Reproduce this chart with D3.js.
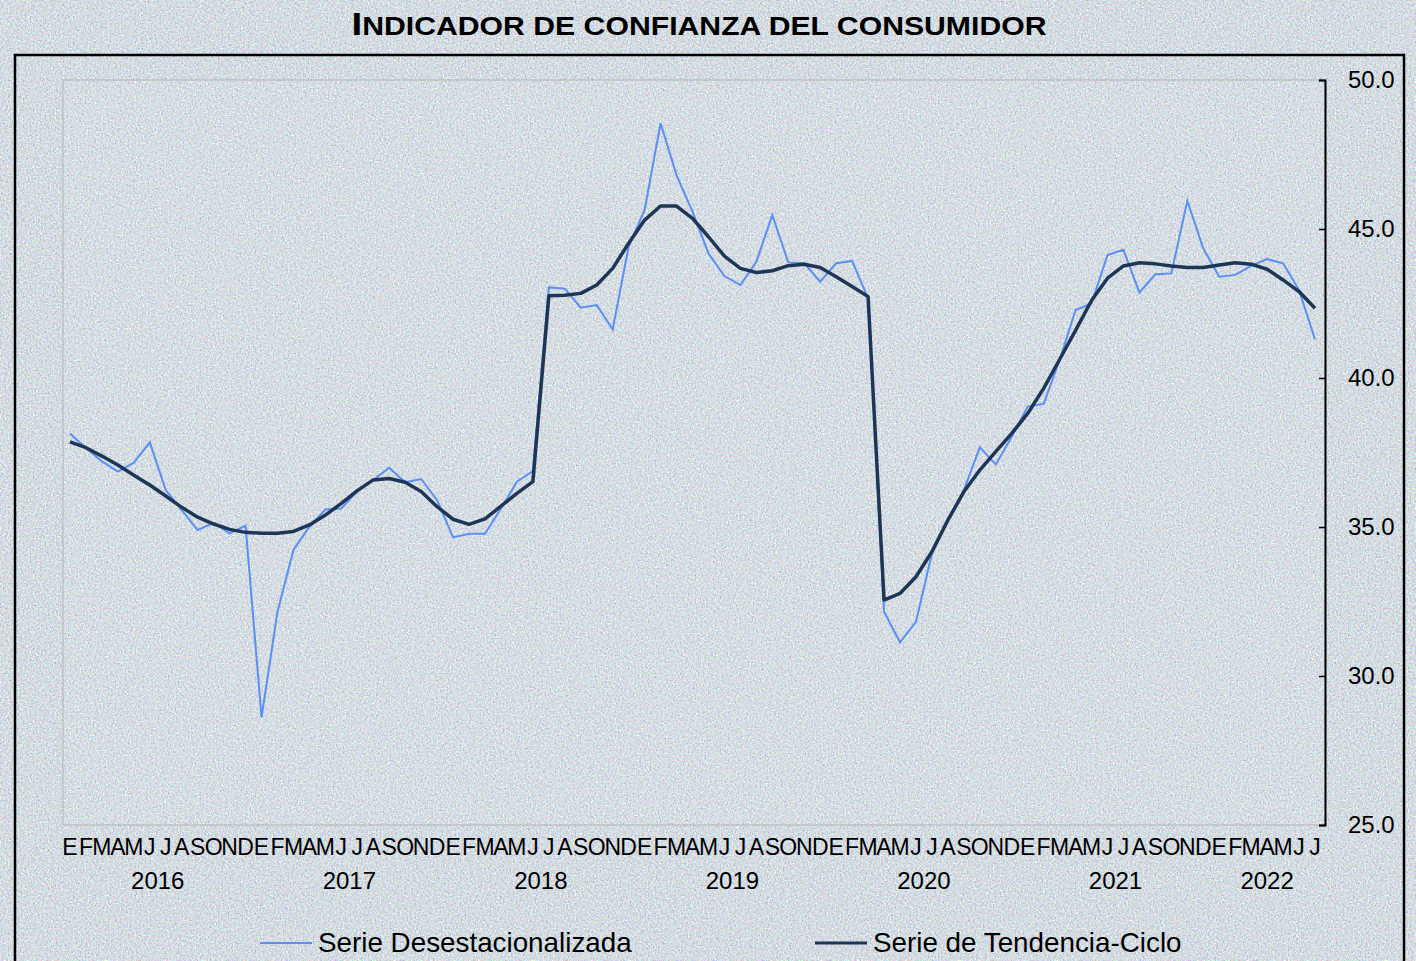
<!DOCTYPE html>
<html>
<head>
<meta charset="utf-8">
<script src="https://cdn.jsdelivr.net/npm/d3@7"></script>
<style>
  body { margin: 0; background: #d2dee6; overflow: hidden; }
  svg { display: block; font-family: "Liberation Sans", Arial, sans-serif; }
</style>
</head>
<body>
<div id="chart"></div>
<script>
// Monthly series, Jan 2016 .. Jul 2022
const monthLetters = ['E', 'F', 'M', 'A', 'M', 'J', 'J', 'A', 'S', 'O', 'N', 'D'];
const years = ['2016', '2017', '2018', '2019', '2020', '2021', '2022'];
const yTicks = [25, 30, 35, 40, 45, 50];

const desestacionalizada = [
  38.14, 37.65, 37.20, 36.86, 37.16, 37.84, 36.24, 35.57, 34.90, 35.14, 34.79, 35.04,
  28.61, 32.16, 34.23, 35.01, 35.59, 35.62, 36.20, 36.58, 36.99, 36.50, 36.61, 35.90,
  34.65, 34.77, 34.77, 35.62, 36.52, 36.88, 43.04, 43.00, 42.36, 42.45, 41.63, 44.41,
  45.64, 48.55, 46.81, 45.58, 44.18, 43.42, 43.12, 43.90, 45.47, 43.88, 43.85, 43.23,
  43.85, 43.93, 42.67, 32.16, 31.13, 31.82, 34.11, 35.23, 36.24, 37.67, 37.10, 38.03,
  39.04, 39.13, 40.60, 42.28, 42.50, 44.13, 44.30, 42.87, 43.48, 43.51, 45.94, 44.35,
  43.40, 43.46, 43.76, 43.99, 43.85, 42.95, 41.30
];

const tendenciaCiclo = [
  37.86, 37.66, 37.38, 37.08, 36.74, 36.41, 36.04, 35.66, 35.33, 35.10, 34.92, 34.82,
  34.79, 34.79, 34.85, 35.07, 35.40, 35.79, 36.22, 36.58, 36.63, 36.50, 36.19, 35.68,
  35.26, 35.09, 35.27, 35.70, 36.13, 36.52, 42.76, 42.78, 42.84, 43.12, 43.68, 44.52,
  45.30, 45.77, 45.77, 45.36, 44.74, 44.09, 43.68, 43.54, 43.60, 43.77, 43.82, 43.71,
  43.40, 43.07, 42.73, 32.55, 32.77, 33.33, 34.17, 35.23, 36.18, 36.91, 37.53, 38.14,
  38.81, 39.65, 40.62, 41.60, 42.60, 43.35, 43.76, 43.87, 43.83, 43.76, 43.71, 43.71,
  43.79, 43.87, 43.82, 43.65, 43.29, 42.90, 42.34
];

const W = 1416, H = 961;
const plot = { left: 63, right: 1325, top: 80, bottom: 825 };

const svg = d3.select('#chart')
  .append('svg')
  .attr('width', W)
  .attr('height', H);

// Noisy pastel paper texture
const defs = svg.append('defs');
const noise = defs.append('filter')
  .attr('id', 'paper')
  .attr('color-interpolation-filters', 'sRGB')
  .attr('x', 0).attr('y', 0).attr('width', '100%').attr('height', '100%');
noise.append('feTurbulence')
  .attr('type', 'fractalNoise')
  .attr('baseFrequency', 0.6)
  .attr('numOctaves', 2)
  .attr('seed', 7);
noise.append('feColorMatrix')
  .attr('type', 'matrix')
  .attr('values', '0.5 0 0 0.22 0.47  0 0.45 0 0.22 0.525  0 0 0.45 0.22 0.55  0 0 0 0 1');

svg.append('rect')
  .attr('width', W)
  .attr('height', H)
  .attr('filter', 'url(#paper)');

// Title (small caps)
const title = svg.append('text')
  .attr('x', 699)
  .attr('y', 35)
  .attr('text-anchor', 'middle')
  .attr('font-weight', 'bold')
  .attr('fill', '#000')
  .attr('textLength', 695)
  .attr('lengthAdjust', 'spacingAndGlyphs');
title.append('tspan').attr('font-size', 32).text('I');
title.append('tspan').attr('font-size', 25).text('NDICADOR DE CONFIANZA DEL CONSUMIDOR');

// Outer frame
svg.append('rect')
  .attr('x', 15)
  .attr('y', 55)
  .attr('width', 1389)
  .attr('height', 1000)
  .attr('fill', 'none')
  .attr('stroke', '#000')
  .attr('stroke-width', 2.5);

// Plot area border
svg.append('rect')
  .attr('x', plot.left)
  .attr('y', plot.top)
  .attr('width', plot.right - plot.left)
  .attr('height', plot.bottom - plot.top)
  .attr('fill', 'rgba(255,255,255,0.06)')
  .attr('stroke', '#b3b3b3')
  .attr('stroke-width', 1);

// Scales
const x = d3.scaleLinear()
  .domain([0, desestacionalizada.length - 1])
  .range([70, 1315]);

const y = d3.scaleLinear()
  .domain([25, 50])
  .range([plot.bottom, plot.top]);

// Right axis
const yAxis = svg.append('g')
  .attr('transform', `translate(${plot.right},0)`)
  .call(d3.axisRight(y)
    .tickValues(yTicks)
    .tickSize(-6)
    .tickPadding(23)
    .tickFormat(d3.format('.1f')));
yAxis.select('.domain').attr('stroke', '#000').attr('stroke-width', 2);
yAxis.selectAll('.tick line').attr('stroke', '#000').attr('stroke-width', 1.5);
yAxis.selectAll('text')
  .attr('fill', '#000')
  .style('font-size', '24px')
  .style('font-family', '"Liberation Sans", Arial, sans-serif');

// Month letters
svg.append('g')
  .selectAll('text')
  .data(desestacionalizada.map((d, i) => i))
  .enter()
  .append('text')
  .attr('x', d => x(d))
  .attr('y', 855)
  .attr('text-anchor', 'middle')
  .style('font-family', '"Liberation Sans Narrow", "Arial Narrow", sans-serif')
  .style('font-size', '23px')
  .text(d => monthLetters[d % 12]);

// Year labels, centred on their months
svg.append('g')
  .selectAll('text')
  .data(years)
  .enter()
  .append('text')
  .attr('x', (d, i) => {
    const first = i * 12;
    const last = Math.min(first + 11, desestacionalizada.length - 1);
    return (x(first) + x(last)) / 2;
  })
  .attr('y', 889)
  .attr('text-anchor', 'middle')
  .style('font-size', '24px')
  .text(d => d);

// Lines
const line = d3.line()
  .x((d, i) => x(i))
  .y(d => y(d));

svg.append('path')
  .datum(desestacionalizada)
  .attr('fill', 'none')
  .attr('stroke', '#5b8ff2')
  .attr('stroke-width', 2)
  .attr('stroke-linejoin', 'miter')
  .attr('d', line);

svg.append('path')
  .datum(tendenciaCiclo)
  .attr('fill', 'none')
  .attr('stroke', '#1e3656')
  .attr('stroke-width', 3.5)
  .attr('stroke-linejoin', 'round')
  .attr('d', line);

// Legend
const legendItems = [
  { label: 'Serie Desestacionalizada', color: '#5b8ff2', width: 2, x: 260 },
  { label: 'Serie de Tendencia-Ciclo', color: '#1e3656', width: 3, x: 815 }
];

const legend = svg.append('g')
  .selectAll('g')
  .data(legendItems)
  .enter()
  .append('g')
  .attr('transform', d => `translate(${d.x}, 943)`);

legend.append('line')
  .attr('x1', 0)
  .attr('x2', 52)
  .attr('stroke', d => d.color)
  .attr('stroke-width', d => d.width);

legend.append('text')
  .attr('x', 58)
  .attr('y', 9)
  .style('font-size', '27.8px')
  .text(d => d.label);
</script>
</body>
</html>
